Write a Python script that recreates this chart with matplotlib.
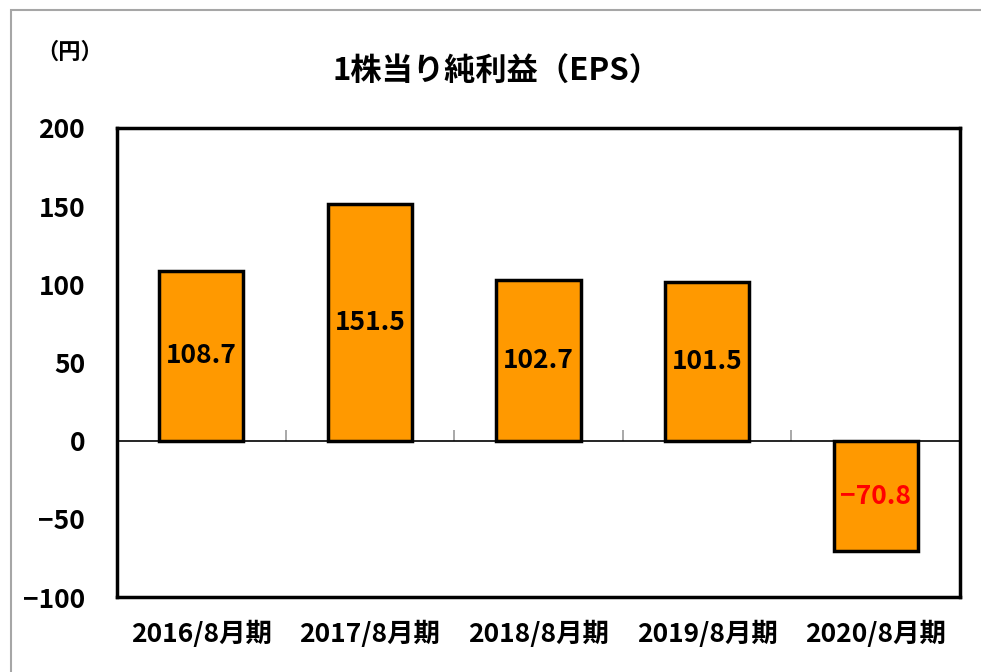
import matplotlib
matplotlib.use("Agg")
import matplotlib.pyplot as plt
from matplotlib.patches import Rectangle
import numpy as np

plt.rcParams['font.family'] = ['Noto Sans CJK JP', 'DejaVu Sans']

categories = ["2016/8月期", "2017/8月期", "2018/8月期", "2019/8月期", "2020/8月期"]
eps = [108.7, 151.5, 102.7, 101.5, -70.8]
labels = ["108.7", "151.5", "102.7", "101.5", "\u221270.8"]
yticks = [200, 150, 100, 50, 0, -50, -100]
ytick_labels = ["200", "150", "100", "50", "0", "\u221250", "\u2212100"]
title = "1株当り純利益（EPS）"
unit = "（円）"

fig = plt.figure(figsize=(9.81, 6.72), dpi=100)
fig.patch.set_facecolor("white")
# outer gray frame
fig.patches.append(Rectangle((11/981, -0.2), 1.5, 1 - 10/672 + 0.2,
                             transform=fig.transFigure, fill=False,
                             edgecolor="#a6a6a6", linewidth=1.5))

ax = fig.add_axes([117/981, 75/672, 843/981, 469/672])
x = np.arange(len(categories))
ax.bar(x, eps, width=0.5, color="#FF9900", edgecolor="black", linewidth=2.5, zorder=3)
ax.set_xlim(-0.5, len(categories) - 0.5)
ax.set_ylim(-100, 200)
ax.set_yticks(yticks)
ax.set_yticklabels(ytick_labels)
ax.set_xticks(x)
ax.set_xticklabels(categories)
ax.tick_params(axis='y', length=0, pad=23, labelsize=19)
ax.tick_params(axis='x', length=0, pad=17, labelsize=19)
for lab in ax.get_xticklabels() + ax.get_yticklabels():
    lab.set_fontweight("bold")
for sp in ax.spines.values():
    sp.set_linewidth(2.5)
    sp.set_color("black")

# zero axis with category-boundary tick marks
sec = ax.secondary_xaxis(0, transform=ax.transData)
sec.set_xticks(np.arange(len(categories) - 1) + 0.5)
sec.tick_params(direction='in', length=8, width=1.2, color="#999999", labelbottom=False)
sec.spines['bottom'].set_linewidth(1.2)
sec.spines['bottom'].set_color("black")

for xi, v, t in zip(x, eps, labels):
    ax.text(xi, v / 2, t, ha='center', va='center', fontsize=19, fontweight='bold',
            color='red' if v < 0 else 'black', zorder=4)

fig.text(497/981, 1 - 72/672, title, ha='center', va='center', fontsize=22.5, fontweight='bold')
fig.text(70/981, 1 - 52/672, unit, ha='center', va='center', fontsize=16, fontweight='bold')

fig.savefig("out.png", dpi=100)
